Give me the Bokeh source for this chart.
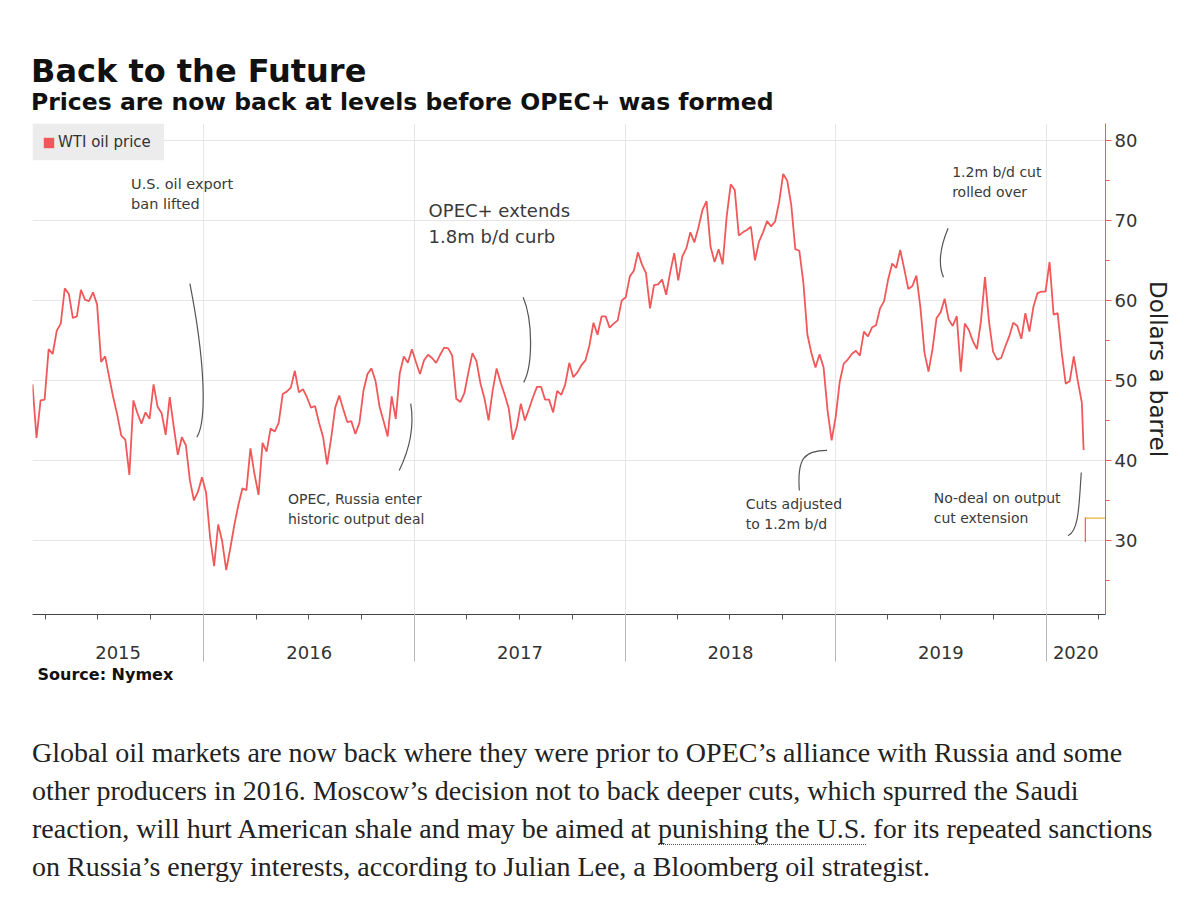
import numpy as np
import pandas as pd
from bokeh.plotting import figure
from bokeh.models import (Range1d, FixedTicker, Label, Legend, LegendItem, Div,
                          DatetimeAxis, Title, BoxAnnotation)
from bokeh.layouts import column
from bokeh.embed import file_html
from bokeh.resources import INLINE

# ---------------- data (weekly WTI, Tuesdays from 2015-03-10) ----------------
wti_2015 = [49.5, 42.8, 47.5, 47.6, 53.9, 53.3, 56.2, 57.1, 61.5, 60.8, 57.8, 58.0,
            61.3, 60.1, 59.9, 61.0, 59.5, 52.3, 53.0, 50.4, 47.9, 45.7, 43.1, 42.6,
            38.2, 47.5, 45.9, 44.6, 46.0, 45.2, 49.5, 46.7, 45.9, 43.2, 47.9, 44.2,
            40.7, 42.9, 41.9, 37.5, 35.0, 36.1, 37.9]
wti_2016 = [36.0, 30.4, 26.8, 32.0, 29.9, 26.3, 29.0, 31.9, 34.4, 36.5, 36.3, 41.5,
            38.3, 35.7, 42.2, 41.1, 44.0, 43.6, 44.7, 48.3, 48.6, 49.1, 51.2, 48.5,
            48.9, 47.9, 46.6, 46.8, 44.7, 42.9, 39.5, 42.8, 46.6, 48.1, 46.4, 44.8,
            44.9, 43.3, 44.7, 48.7, 50.8, 51.5, 49.9, 46.7, 44.9, 43.0, 48.0, 45.2,
            50.9, 53.0, 52.2, 53.9]
wti_2017 = [52.3, 50.8, 52.5, 53.2, 52.8, 52.2, 53.2, 54.1, 54.0, 53.1, 47.7, 47.3,
            48.4, 51.0, 53.4, 52.4, 49.6, 47.7, 45.0, 48.7, 51.5, 49.7, 48.2, 46.5,
            42.6, 44.2, 47.1, 45.0, 46.4, 47.9, 49.2, 49.2, 47.6, 47.6, 46.0, 48.7,
            48.2, 49.5, 52.2, 50.4, 51.0, 51.9, 52.5, 54.4, 57.2, 55.7, 58.0, 58.0,
            56.6, 57.1, 57.5, 60.0]
wti_2018 = [60.4, 63.0, 63.7, 66.0, 64.5, 63.4, 59.0, 61.9, 62.0, 62.6, 60.7, 63.5,
            65.9, 62.5, 65.5, 66.5, 68.5, 67.25, 69.1, 71.3, 72.4, 66.7, 64.8, 66.4,
            64.5, 70.5, 74.5, 73.8, 68.1, 68.5, 68.8, 69.2, 65.0, 67.35, 68.5, 69.9,
            69.25, 69.85, 72.3, 75.8, 74.96, 71.9, 66.4, 66.2, 62.2, 55.7, 53.4, 51.6,
            53.25, 51.65, 46.2, 42.5]
wti_2019 = [45.4, 49.8, 52.1, 52.6, 53.3, 53.7, 53.1, 56.1, 55.5, 56.6, 56.9, 59.0,
            59.9, 62.6, 64.6, 64.05, 66.3, 63.9, 61.4, 61.8, 63.1, 59.1, 53.5, 51.1,
            53.9, 57.8, 58.5, 60.2, 57.6, 56.8, 58.05, 51.1, 57.1, 56.3, 54.9, 53.9,
            57.4, 62.9, 57.3, 53.6, 52.6, 52.8, 54.2, 55.5, 57.2, 56.8, 55.2, 58.4,
            56.1, 59.2, 60.9, 61.1, 61.1]
wti_2020 = [64.8, 58.2, 58.4, 53.5, 49.6, 49.9, 53.0, 49.9, 47.2]
first_week = "2015-03-10"
tail_dates = ["2020-03-06"]
tail_values = [41.3]

# last session (2020-03-09): range and latest price marker
last_date = "2020-03-09"
last_low = 29.8
last_high = 32.9
last_price = 32.8

years = ["2015", "2016", "2017", "2018", "2019", "2020"]
y_ticks = [30, 40, 50, 60, 70, 80]
y_minor = [25, 35, 45, 55, 65, 75]

RED = "#f0585a"
TXT = "#333333"
FONT = "DejaVu Sans"


def ms(d):
    return pd.Timestamp(d).timestamp() * 1000.0


values = wti_2015 + wti_2016 + wti_2017 + wti_2018 + wti_2019 + wti_2020
dates = list(pd.date_range(first_week, periods=len(values), freq="7D"))
dates += [pd.Timestamp(d) for d in tail_dates]
values += tail_values

x_start, x_end = ms("2015-03-10"), ms("2020-04-13")
y_bottom, y_top = 20.75, 82.1

p = figure(x_axis_type="datetime", y_axis_location="right",
           frame_width=1073, frame_height=491,
           x_range=Range1d(x_start, x_end), y_range=Range1d(y_bottom, y_top),
           output_backend="svg", toolbar_location=None,
           min_border_left=24, min_border_top=5, min_border_bottom=10,
           min_border_right=10, outline_line_color=None,
           background_fill_color="white", border_fill_color="white",
           margin=(0, 0, 0, 8))

year_bounds = [ms(f"{y}-01-01") for y in years[1:]]
quarters = [ms(d) for d in pd.date_range("2015-04-01", "2020-04-01", freq="QS")]
quarters = [q for q in quarters if q not in year_bounds]
edges = [x_start] + year_bounds + [x_end]
mid_years = [(edges[i] + edges[i + 1]) / 2 for i in range(len(years))]

# axis A: year labels centred in each span + quarterly minor ticks
xa = p.xaxis[0]
xa.ticker = FixedTicker(ticks=mid_years, minor_ticks=quarters)
xa.major_label_overrides = {t: yr for t, yr in zip(mid_years, years)}
xa.major_label_text_font = FONT
xa.major_label_text_font_size = "18px"
xa.major_label_text_color = TXT
xa.major_label_standoff = 26
xa.major_tick_in = 0
xa.major_tick_out = 0
xa.minor_tick_in = 0
xa.minor_tick_out = 5
xa.minor_tick_line_color = "#555555"
xa.axis_line_color = "#444444"

# axis B: long year separators drawn up through axis A's band
xb = DatetimeAxis(ticker=FixedTicker(ticks=year_bounds, minor_ticks=[]),
                  axis_line_color=None, major_tick_in=48, major_tick_out=0,
                  major_tick_line_color="#b5b5b5", minor_tick_line_color=None,
                  major_label_text_font_size="1px", major_label_standoff=0,
                  major_label_overrides={t: "" for t in year_bounds})
p.add_layout(xb, "below")

p.add_layout(Title(text="Source: Nymex", align="left", offset=5, standoff=2,
                   text_font=FONT, text_font_size="16px",
                   text_font_style="bold", text_color="#111111"), "below")

ya = p.yaxis[0]
ya.ticker = FixedTicker(ticks=y_ticks, minor_ticks=y_minor)
ya.axis_line_color = RED
ya.major_tick_line_color = RED
ya.minor_tick_line_color = RED
ya.major_tick_in = 0
ya.major_tick_out = 6
ya.minor_tick_in = 0
ya.minor_tick_out = 4
ya.major_label_standoff = 3
ya.major_label_text_font = FONT
ya.major_label_text_font_size = "18px"
ya.major_label_text_color = TXT
ya.axis_label = "Dollars a barrel"
ya.axis_label_text_font = FONT
ya.axis_label_text_font_size = "23px"
ya.axis_label_text_font_style = "normal"
ya.axis_label_text_color = "#222222"
ya.axis_label_standoff = 5

p.xgrid.ticker = FixedTicker(ticks=year_bounds)
p.xgrid.grid_line_color = "#e6e6e6"
p.ygrid.ticker = FixedTicker(ticks=y_ticks)
p.ygrid.grid_line_color = "#e6e6e6"

# main line
p.line(x=dates, y=values, line_color=RED, line_width=1.8)
# last session
p.segment(x0=[ms(last_date)], y0=[last_low], x1=[ms(last_date)], y1=[last_high],
          line_color=RED, line_width=1.2)
p.segment(x0=[ms(last_date)], y0=[last_price], x1=[x_end], y1=[last_price],
          line_color="#f0b23a", line_width=1.2)

# legend: grey panel behind a transparent legend
p.add_layout(BoxAnnotation(left=x_start, right=ms("2015-10-24"), bottom=77.5,
                           top=y_top, fill_color="#ececec", fill_alpha=1.0,
                           line_color=None))
leg_r = p.quad(left=[np.nan], right=[np.nan], top=[np.nan], bottom=[np.nan],
               fill_color=RED, line_color=None)
legend = Legend(items=[LegendItem(label="WTI oil price", renderers=[leg_r])],
                location="top_left", margin=10, padding=0, spacing=0,
                glyph_width=13, glyph_height=13, label_standoff=3,
                label_text_font=FONT, label_text_font_size="15px",
                label_text_color=TXT, background_fill_alpha=0.0,
                border_line_color=None)
p.add_layout(legend)

# annotations
notes = [
    ("U.S. oil export\nban lifted", "2015-08-28", 75.5, "14.5px"),
    ("OPEC, Russia enter\nhistoric output deal", "2016-05-26", 36.2, "14px"),
    ("OPEC+ extends\n1.8m b/d curb", "2017-01-25", 72.6, "18px"),
    ("Cuts adjusted\nto 1.2m b/d", "2018-07-29", 35.6, "14px"),
    ("1.2m b/d cut\nrolled over", "2019-07-22", 77.0, "14px"),
    ("No-deal on output\ncut extension", "2019-06-20", 36.3, "14px"),
]
for txt, d, v, fs in notes:
    p.add_layout(Label(x=ms(d), y=v, text=txt, text_font=FONT,
                       text_font_size=fs, text_color="#3a3a3a",
                       text_align="left", text_baseline="top",
                       text_line_height=1.25))

leaders = [
    ("2015-12-08", 62.1, "2016-01-03", 52.5, "2016-01-07", 45.0, "2015-12-20", 42.9),
    ("2016-12-25", 47.1, "2017-01-01", 44.0, "2016-12-22", 41.25, "2016-12-05", 38.75),
    ("2017-07-08", 60.4, "2017-07-25", 57.5, "2017-07-25", 51.9, "2017-07-09", 49.75),
    ("2018-10-30", 36.25, "2018-10-26", 40.25, "2018-11-07", 41.25, "2018-12-17", 41.25),
    ("2019-07-15", 69.0, "2019-06-29", 66.25, "2019-06-28", 64.4, "2019-07-07", 62.9),
    ("2020-03-02", 38.5, "2020-02-27", 34.4, "2020-02-27", 31.25, "2020-02-08", 30.6),
]
p.bezier(x0=[ms(l[0]) for l in leaders], y0=[l[1] for l in leaders],
         cx0=[ms(l[2]) for l in leaders], cy0=[l[3] for l in leaders],
         cx1=[ms(l[4]) for l in leaders], cy1=[l[5] for l in leaders],
         x1=[ms(l[6]) for l in leaders], y1=[l[7] for l in leaders],
         line_color="#555555", line_width=1.2)

top = Div(text="""<div style="font-family:'DejaVu Sans';font-weight:bold;color:#111;white-space:nowrap;">
<div style="font-size:32px;line-height:32px;margin-top:47px;">Back to the Future</div>
<div style="font-size:23.5px;line-height:26px;margin-top:2px;">Prices are now back at levels before OPEC+ was formed</div>
</div>""", width=1160, height=110, margin=(8, 0, 0, 31))

para = Div(text="""<div style="font-family:'Liberation Serif';font-size:28px;line-height:38px;color:#222;white-space:nowrap;margin-top:50px;">
Global oil markets are now back where they were prior to OPEC\u2019s alliance with Russia and some<br>
other producers in 2016. Moscow\u2019s decision not to back deeper cuts, which spurred the Saudi<br>
reaction, will hurt American shale and may be aimed at <span style="border-bottom:1px dotted #555;">punishing the U.S.</span> for its repeated sanctions<br>
on Russia\u2019s energy interests, according to Julian Lee, a Bloomberg oil strategist.
</div>""", width=1160, height=205, margin=(0, 0, 0, 32))

layout = column(top, p, para, spacing=0)
open("out.html", "w").write(file_html(layout, INLINE))
